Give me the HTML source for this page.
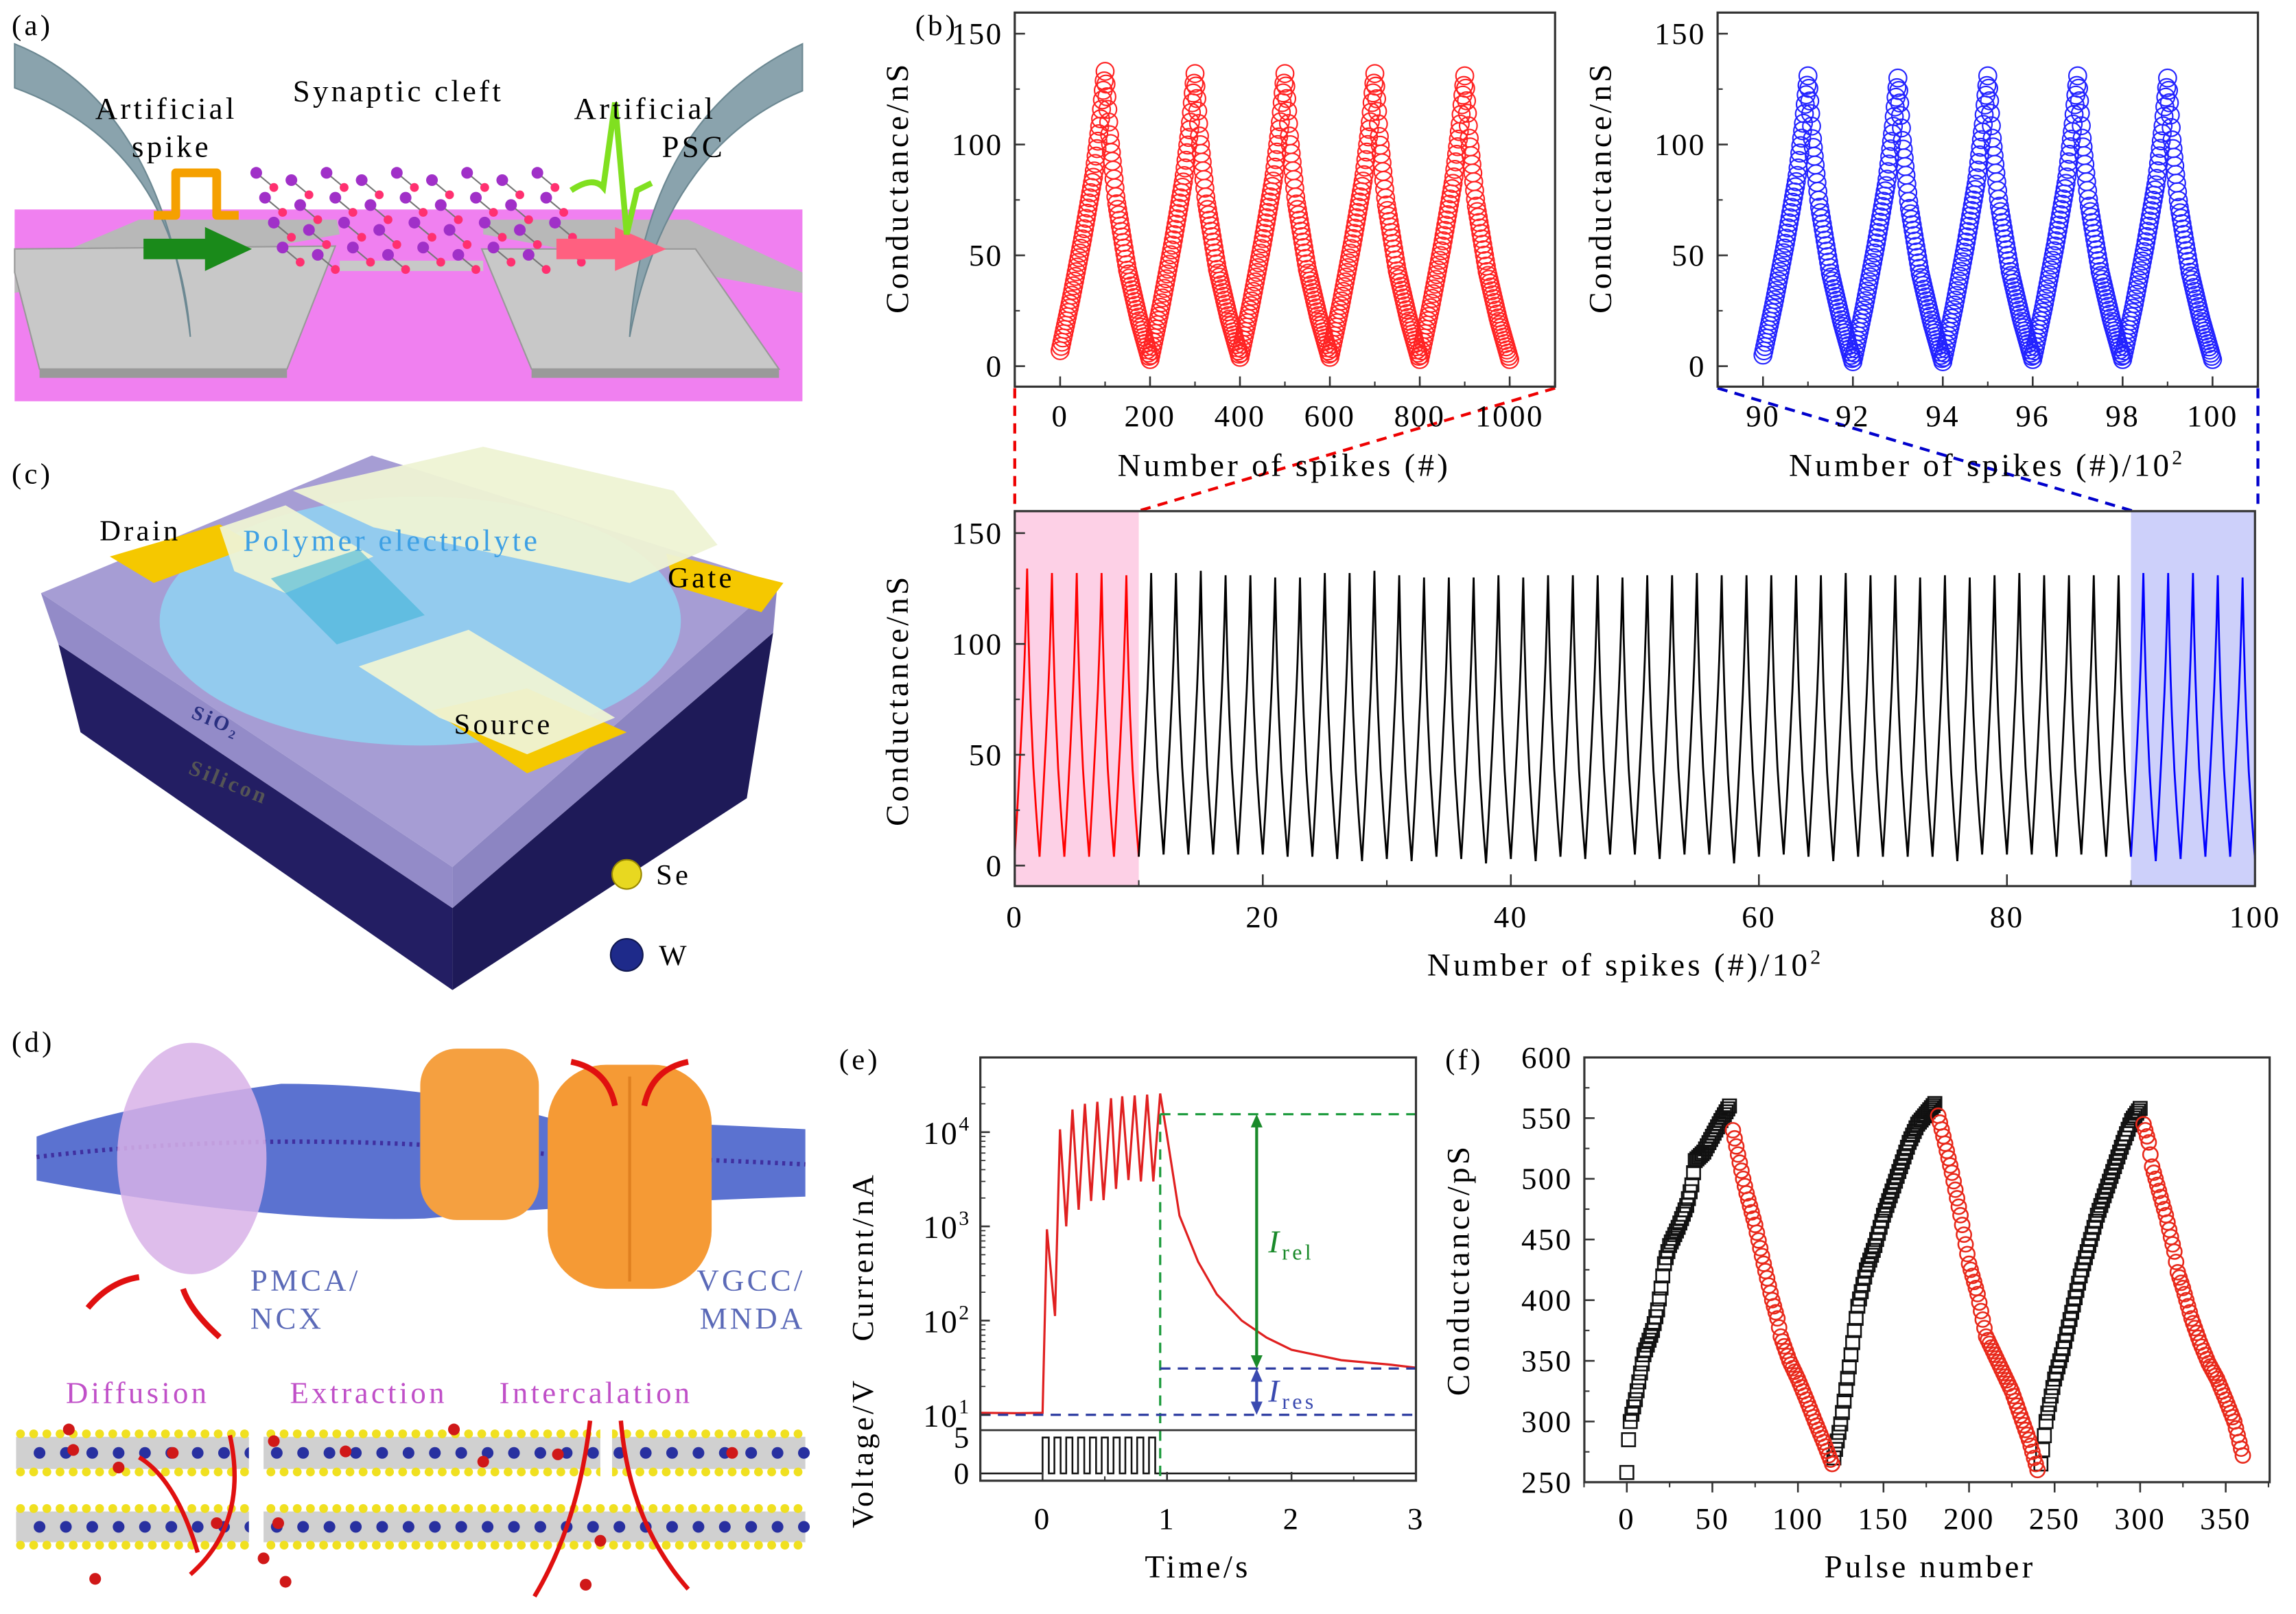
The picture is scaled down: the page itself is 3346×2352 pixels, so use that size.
<!DOCTYPE html>
<html><head><meta charset="utf-8"><style>
html,body{margin:0;padding:0;background:#fff;}
svg{display:block;}
text{font-family:"Liberation Serif",serif;letter-spacing:2px;}
text.tk{letter-spacing:1.2px;}
</style></head><body>
<svg id="fig" xmlns="http://www.w3.org/2000/svg" width="3346" height="2352" viewBox="0 0 1568 1102" preserveAspectRatio="none">
<rect x="0" y="0" width="1568" height="1102" fill="#fff"/>

<!-- Panel (a) -->
<g>
  <polygon points="10,143 548,143 548,274 10,274" fill="#f080f0"/>
  <polygon points="10,186 95,150 230,150 232,160 10,200" fill="#b8b8b8"/>
  <polygon points="548,186 470,150 330,150 330,160 548,200" fill="#b8b8b8"/>
  <polygon points="27,252 196,252 229,168 10,170 10,186" fill="#c8c8c8" stroke="#999" stroke-width="1"/>
  <polygon points="27,252 196,252 196,258 27,258" fill="#9a9a9a"/>
  <polygon points="363,252 532,252 475,170 329,170" fill="#c8c8c8" stroke="#999" stroke-width="1"/>
  <polygon points="363,252 532,252 532,258 363,258" fill="#9a9a9a"/>
  <polygon points="232,178 330,178 330,185 232,185" fill="#c8c8c8"/>
  <g id="lattice-a"></g>
  <path d="M10,30 Q110,70 130,230 Q120,100 10,60 Z" fill="#8aa3ad" stroke="#6c8892" stroke-width="1"/>
  <path d="M548,30 Q440,80 430,230 Q455,100 548,62 Z" fill="#8aa3ad" stroke="#6c8892" stroke-width="1"/>
  <path d="M105,147 L120,147 L120,118 L148,118 L148,147 L163,147" fill="none" stroke="#f5a000" stroke-width="6" stroke-linejoin="round"/>
  <polygon points="98,163 140,163 140,155 172,170 140,185 140,177 98,177" fill="#1a8a1a"/>
  <polygon points="380,163 420,163 420,155 455,170 420,185 420,177 380,177" fill="#ff6080"/>
  <path d="M390,130 Q405,120 412,128 L420,70 L428,160 L435,130 L445,125" fill="none" stroke="#80e020" stroke-width="4"/>
  <text x="8" y="24" font-size="20">(a)</text>
  <text x="65" y="81" font-size="21">Artificial</text>
  <text x="90" y="107" font-size="21">spike</text>
  <text x="200" y="69" font-size="21">Synaptic cleft</text>
  <text x="392" y="81" font-size="21">Artificial</text>
  <text x="452" y="107" font-size="21">PSC</text>
</g>

<!-- Panel (c) -->
<g>
  <polygon points="40,440 309,620 309,676 55,500" fill="#231e63"/>
  <polygon points="309,620 528,432 510,545 309,676" fill="#1e1a58"/>
  <polygon points="28,405 309,592 309,620 40,440" fill="#938bc8"/>
  <polygon points="309,592 531,398 528,432 309,620" fill="#8c85c2"/>
  <polygon points="28,405 254,311 531,398 309,592" fill="#a69dd4"/>
  <ellipse cx="287" cy="424" rx="178" ry="85" fill="#8fd4f2" opacity="0.85"/>
  <polygon points="75,380 150,358 175,372 105,398" fill="#f5c800"/>
  <polygon points="455,378 535,398 520,418 460,400" fill="#f5c800"/>
  <polygon points="295,485 360,470 428,500 360,528" fill="#f5c800"/>
  <polygon points="150,360 195,345 255,380 195,405 160,390" fill="#eef3d4" opacity="0.95"/>
  <polygon points="200,335 330,305 460,335 490,372 430,398 255,360" fill="#eef3d4" opacity="0.95"/>
  <polygon points="245,455 320,430 370,460 420,490 360,515 300,490" fill="#eef3d4" opacity="0.95"/>
  <polygon points="185,395 245,375 290,420 230,440" fill="#3fb4d8" opacity="0.6"/>
  <text x="8" y="330" font-size="20">(c)</text>
  <text x="68" y="369" font-size="20">Drain</text>
  <text x="166" y="376" font-size="21" fill="#3ea0e4">Polymer electrolyte</text>
  <text x="456" y="401" font-size="20">Gate</text>
  <text x="310" y="501" font-size="20">Source</text>
  <text x="130" y="490" font-size="14" font-weight="bold" fill="#2a3080" transform="rotate(22 130 490)">SiO₂</text>
  <text x="128" y="528" font-size="15" font-weight="bold" fill="#555" transform="rotate(22 128 528)">Silicon</text>
  <circle cx="428" cy="597" r="10" fill="#e8d820" stroke="#998800" stroke-width="1"/>
  <text x="448" y="604" font-size="20">Se</text>
  <circle cx="428" cy="652" r="11" fill="#1e2a8a" stroke="#101850" stroke-width="1"/>
  <text x="450" y="659" font-size="20">W</text>
</g>

<!-- Panel (d) -->
<g>
  <path d="M25,776 Q83,755 192,740 Q290,740 374,763 Q490,768 550,771 L550,817 Q400,822 290,832 Q181,835 25,806 Z" fill="#5b72d0"/>
  <path d="M25,790 Q190,770 374,788 Q490,792 550,795" stroke="#4030a0" stroke-width="3" fill="none" stroke-dasharray="2 3"/>
  <rect x="287" y="716" width="81" height="117" rx="25" fill="#f5a040"/>
  <rect x="374" y="727" width="112" height="153" rx="40" fill="#f59a35"/>
  <line x1="430" y1="735" x2="430" y2="875" stroke="#e08020" stroke-width="2"/>
  <ellipse cx="131" cy="791" rx="51" ry="79" fill="#d8b2e8" opacity="0.85"/>
  <path d="M60,893 Q75,875 95,872" stroke="#e01010" stroke-width="4" fill="none"/>
  <path d="M150,913 Q130,895 125,880" stroke="#e01010" stroke-width="4" fill="none"/>
  <path d="M390,725 Q415,730 420,755" stroke="#e01010" stroke-width="4" fill="none"/>
  <path d="M470,725 Q445,730 440,755" stroke="#e01010" stroke-width="4" fill="none"/>
  <text x="8" y="718" font-size="20">(d)</text>
  <text x="171" y="881" font-size="21" fill="#5b6ab8">PMCA/</text>
  <text x="171" y="907" font-size="21" fill="#5b6ab8">NCX</text>
  <text x="550" y="881" font-size="21" fill="#5b6ab8" text-anchor="end">VGCC/</text>
  <text x="550" y="907" font-size="21" fill="#5b6ab8" text-anchor="end">MNDA</text>
  <text x="45" y="958" font-size="21" fill="#c050c8">Diffusion</text>
  <text x="198" y="958" font-size="21" fill="#c050c8">Extraction</text>
  <text x="341" y="958" font-size="21" fill="#c050c8">Intercalation</text>
  <g id="lattice-d"></g>
  <path d="M135,1060 Q120,1010 95,995" stroke="#e01010" stroke-width="3" fill="none"/>
  <path d="M130,1075 Q170,1040 157,980" stroke="#e01010" stroke-width="3" fill="none"/>
  <path d="M403,970 Q395,1040 365,1090" stroke="#e01010" stroke-width="3" fill="none"/>
  <path d="M424,970 Q430,1040 470,1085" stroke="#e01010" stroke-width="3" fill="none"/>
</g>

<!-- Panel (b) static -->
<text x="625" y="24" font-size="20">(b)</text>
<line x1="693" y1="265" x2="693" y2="349" stroke="#e00" stroke-width="2" stroke-dasharray="7 5"/>
<line x1="1062" y1="265" x2="777" y2="349" stroke="#e00" stroke-width="2" stroke-dasharray="7 5"/>
<line x1="1173" y1="265" x2="1457" y2="349" stroke="#00c" stroke-width="2" stroke-dasharray="7 5"/>
<line x1="1542" y1="265" x2="1542" y2="349" stroke="#00c" stroke-width="2" stroke-dasharray="7 5"/>
<text x="620" y="128" font-size="22" text-anchor="middle" transform="rotate(-90 620 128)">Conductance/nS</text>
<text x="877" y="325" font-size="22" text-anchor="middle">Number of spikes (#)</text>
<text x="1100" y="128" font-size="22" text-anchor="middle" transform="rotate(-90 1100 128)">Conductance/nS</text>
<text x="1357" y="325" font-size="22" text-anchor="middle">Number of spikes (#)/10<tspan dy="-8" font-size="14">2</tspan></text>
<text x="620" y="478" font-size="22" text-anchor="middle" transform="rotate(-90 620 478)">Conductance/nS</text>
<text x="1110" y="666" font-size="22" text-anchor="middle">Number of spikes (#)/10<tspan dy="-8" font-size="14">2</tspan></text>

<!-- Panel (e) static -->
<text x="573" y="730" font-size="20">(e)</text>
<text x="596" y="858" font-size="21" text-anchor="middle" transform="rotate(-90 596 858)">Current/nA</text>
<text x="596" y="992" font-size="21" text-anchor="middle" transform="rotate(-90 596 992)">Voltage/V</text>
<text x="818" y="1077" font-size="22" text-anchor="middle">Time/s</text>

<!-- Panel (f) static -->
<text x="987" y="730" font-size="20">(f)</text>
<text x="1003" y="867" font-size="22" text-anchor="middle" transform="rotate(-90 1003 867)">Conductance/pS</text>
<text x="1318" y="1077" font-size="22" text-anchor="middle">Pulse number</text>

<g id="charts"></g>
</svg>
<script>
// ---- data: panel b ----
const riseAt = [0, 25, 50, 75, 90, 100];
const riseFrac = [0, 0.19, 0.40, 0.63, 0.83, 1];
const decayAt = [0, 10, 25, 50, 75, 100];
const decayFrac = [1, 0.78, 0.55, 0.31, 0.14, 0];
const tlPeaks = [133, 132, 132, 132, 131];
const tlTroughs = [7, 3, 4, 4, 3, 3];
const tlTicks = [0, 200, 400, 600, 800, 1000];
const trPeaks = [131, 130, 131, 131, 130];
const trTroughs = [5, 2, 2, 3, 3, 3];
const trTicks = [90, 92, 94, 96, 98, 100];
const yTicksB = [0, 50, 100, 150];
const bPeaks = [134,132,132,132,131, 132,132,133,131,131,130,130,132,132,133,131,130,130,130,131,130,131,131,131,130,131,131,132,131,131,131,131,131,132,131,131,130,131,130,131,132,131,131,131,131, 132,132,132,131,130];
const bTroughs = [5,4,4,4,4,4, 5,5,5,5,5,4,4,3,2,3,2,4,3,1,3,2,4,3,5,5,3,5,5,1,4,5,4,2,4,4,4,4,2,5,5,5,4,5,4, 4,2,3,4,4,3];
const bTicks = [0, 20, 40, 60, 80, 100];
// ---- data: panel e ----
const eBaseT = [-0.5, -0.2, 0.0];
const eBaseI = [10.5, 10.4, 10.5];
const ePulseT = [0.035,0.10,0.14,0.19,0.24,0.29,0.34,0.39,0.44,0.49,0.55,0.59,0.64,0.69,0.74,0.79,0.84,0.89,0.945];
const ePulseI = [930,112,10700,1000,17400,1500,20000,1860,21000,1900,22900,2500,24000,3100,24500,3000,25000,3000,25700];
const eDecayT = [1.0,1.1,1.25,1.4,1.6,1.8,2.0,2.4,2.8,3.0];
const eDecayI = [9100,1300,420,190,100,66,49,38,34,31.6];
const eXTicks = [0, 1, 2, 3];
const eYExp = [1, 2, 3, 4];
const ePulseStarts = [0.0,0.095,0.19,0.285,0.38,0.475,0.57,0.665,0.76,0.855];
const ePulseWidth = 0.05;
const eIrelTop = 15500, eIresTop = 31, eIresBottom = 10;
// ---- data: panel f ----
const fRiseX = [[0,1,2,5,8,10,15,18,20,22,25,30,35,38,40,45,50,55,60],[121,125,130,135,140,145,150,155,160,165,170,180],[242,245,250,255,260,265,270,275,280,285,290,295,300]];
const fRiseV = [[258,285,300,318,340,355,375,392,410,430,445,460,478,495,515,522,535,548,560],[270,298,345,395,425,445,470,490,510,530,545,562],[265,300,335,360,390,420,445,470,490,510,530,548,558]];
const fFallX = [[62,65,68,70,75,80,85,88,90,95,100,105,110,115,120],[182,185,190,195,200,205,210,215,220,225,230,235,240],[302,305,307,310,315,320,322,325,330,335,340,345,350,355,360]];
const fFallV = [[540,520,500,488,462,430,400,385,370,350,335,318,300,283,265],[552,535,505,470,430,405,370,355,340,325,305,285,260],[545,530,510,495,470,440,423,410,385,365,348,335,318,300,272]];
const fXTicks = [0,50,100,150,200,250,300,350];
const fYTicks = [250,300,350,400,450,500,550,600];

const NS = 'http://www.w3.org/2000/svg';
const root = document.getElementById('charts');
function mk(tag, attrs, parent){const e=document.createElementNS(NS,tag);for(const k in attrs)e.setAttribute(k,attrs[k]);(parent||root).appendChild(e);return e;}
function lin(d0,d1,r0,r1){return v=>r0+(v-d0)*(r1-r0)/(d1-d0);}
function interp(xs,ys,x){for(let i=0;i<xs.length-1;i++){if(x<=xs[i+1]){const t=(x-xs[i])/(xs[i+1]-xs[i]);return ys[i]+t*(ys[i+1]-ys[i]);}}return ys[ys.length-1];}

function box(x0,y0,x1,y1,name){const r=mk('rect',{x:x0,y:y0,width:x1-x0,height:y1-y0,fill:'none',stroke:'#333','stroke-width':1.5});


return r;}
function xticks(g,ticks,xs,yb,ytxt,len,minorStep,lo,hi,name){
  ticks.forEach(t=>{const l=mk('line',{x1:xs(t),x2:xs(t),y1:yb,y2:yb-len,stroke:'#333','stroke-width':1.2},g);
    
    
    const tx=mk('text',{x:xs(t),y:ytxt,'font-size':21,'text-anchor':'middle','class':'tk'},g);tx.textContent=t;
    
    });
  if(minorStep){for(let v=lo;v<=hi+1e-9;v+=minorStep){const l=mk('line',{x1:xs(v),x2:xs(v),y1:yb,y2:yb-len/2,stroke:'#333','stroke-width':1},g);
    
    }}
}
function yticks(g,ticks,ys,xl,xtxt,len,minorStep,lo,hi,name){
  ticks.forEach(t=>{const l=mk('line',{x1:xl,x2:xl+len,y1:ys(t),y2:ys(t),stroke:'#333','stroke-width':1.2},g);
    
    
    const tx=mk('text',{x:xtxt,y:ys(t)+7,'font-size':21,'text-anchor':'end','class':'tk'},g);tx.textContent=t;
    
    });
  if(minorStep){for(let v=lo;v<=hi+1e-9;v+=minorStep){const l=mk('line',{x1:xl,x2:xl+len/2,y1:ys(v),y2:ys(v),stroke:'#333','stroke-width':1},g);
    
    }}
}
function cycleVal(k,peak,t0,t1){
  if(k<=100) return t0+(peak-t0)*interp(riseAt,riseFrac,k);
  return t1+(peak-t1)*interp(decayAt,decayFrac,k-100);
}

// ----- top-left -----
(function(){
  const g=mk('g',{});
  
  
  const xs=lin(0,1000,724,1031), ys=lin(0,150,250,23);
  tlPeaks.forEach((p,c)=>{for(let k=0;k<200;k+=2){const v=cycleVal(k,p,tlTroughs[c],tlTroughs[c+1]);
    const m=mk('circle',{cx:xs(c*200+k),cy:ys(v),r:6,fill:'none',stroke:'#f22','stroke-width':1},g);
    
    }});
  const m=mk('circle',{cx:xs(1000),cy:ys(tlTroughs[5]),r:6,fill:'none',stroke:'#f22','stroke-width':1},g);
  
  
  g.appendChild(box(693,8.6,1062,264,'tl-plot-frame'));
  xticks(g,tlTicks,xs,264,291,7,100,-100,1100,'tl-x');
  yticks(g,yTicksB,ys,693,685,7,25,0,150,'tl-y');
})();
// ----- top-right -----
(function(){
  const g=mk('g',{});
  
  
  const xs=lin(90,100,1204,1511), ys=lin(0,150,250,23);
  trPeaks.forEach((p,c)=>{for(let k=0;k<200;k+=2){const v=cycleVal(k,p,trTroughs[c],trTroughs[c+1]);
    const m=mk('circle',{cx:xs(90+(c*200+k)/100),cy:ys(v),r:6,fill:'none',stroke:'#22f','stroke-width':1},g);
    
    }});
  const m=mk('circle',{cx:xs(100),cy:ys(trTroughs[5]),r:6,fill:'none',stroke:'#22f','stroke-width':1},g);
  
  
  g.appendChild(box(1173,8.6,1542,264,'tr-plot-frame'));
  xticks(g,trTicks,xs,264,291,7,1,89,101,'tr-x');
  yticks(g,yTicksB,ys,1173,1165,7,25,0,150,'tr-y');
})();
// ----- bottom long -----
(function(){
  const g=mk('g',{});
  
  
  const xs=lin(0,100,693,1540), ys=lin(0,150,591,364);
  const pr=mk('rect',{x:xs(0),y:349,width:xs(10)-xs(0),height:256,fill:'#fdd0e6'},g);
  
  
  const br=mk('rect',{x:xs(90),y:349,width:xs(100)-xs(90),height:256,fill:'#cdd0fa'},g);
  
  
  bPeaks.forEach((p,c)=>{let pts=[];for(let k=0;k<=200;k+=10){pts.push(xs((c*200+k)/100).toFixed(2)+','+ys(cycleVal(k,p,bTroughs[c],bTroughs[c+1])).toFixed(2));}
    const col=c<5?'#f00':(c>=45?'#00f':'#000');
    const l=mk('polyline',{points:pts.join(' '),fill:'none',stroke:col,'stroke-width':1.3},g);
    
    });
  g.appendChild(box(693,349,1540,605,'bottom-plot-frame'));
  xticks(g,bTicks,xs,605,633,8,10,0,100,'bottom-x');
  yticks(g,yTicksB,ys,693,685,7,25,0,150,'bottom-y');
})();
// ----- panel e -----
(function(){
  const g=mk('g',{});
  
  
  const xs=lin(-0.5,3,669.5,967), yl=v=>lin(1,4,966,773)(Math.log10(v)), yv=lin(0,5,1006,981.5);
  const T=eBaseT.concat(ePulseT,eDecayT), I=eBaseI.concat(ePulseI,eDecayI);
  const c=mk('polyline',{points:T.map((t,i)=>xs(t).toFixed(2)+','+yl(I[i]).toFixed(2)).join(' '),fill:'none',stroke:'#e02020','stroke-width':1.5},g);
  
  
  let vp=[xs(-0.5)+','+yv(0)];
  ePulseStarts.forEach(s=>{vp.push(xs(s)+','+yv(0),xs(s)+','+yv(5),xs(s+ePulseWidth)+','+yv(5),xs(s+ePulseWidth)+','+yv(0));});
  vp.push(xs(3)+','+yv(0));
  const v=mk('polyline',{points:vp.join(' '),fill:'none',stroke:'#111','stroke-width':1.2},g);
  
  
  const tEnd=ePulseT[ePulseT.length-1], tArr=1.72;
  const gv=mk('line',{x1:xs(tEnd),x2:xs(tEnd),y1:yl(eIrelTop),y2:1011,stroke:'#1a9a3a','stroke-width':1.5,'stroke-dasharray':'7 5'},g);
  
  
  const gh=mk('line',{x1:xs(tEnd),x2:967,y1:yl(eIrelTop),y2:yl(eIrelTop),stroke:'#1a9a3a','stroke-width':1.5,'stroke-dasharray':'7 5'},g);
  
  
  const b1=mk('line',{x1:xs(tEnd),x2:967,y1:yl(eIresTop),y2:yl(eIresTop),stroke:'#2b3aa0','stroke-width':1.5,'stroke-dasharray':'7 5'},g);
  
  
  const b2=mk('line',{x1:669.5,x2:967,y1:yl(eIresBottom),y2:yl(eIresBottom),stroke:'#2b3aa0','stroke-width':1.5,'stroke-dasharray':'7 5'},g);
  
  
  const a1=mk('line',{x1:xs(tArr),x2:xs(tArr),y1:yl(eIrelTop)+6,y2:yl(eIresTop)-6,stroke:'#1a8a2a','stroke-width':2},g);
  
  
  const ah1=mk('polygon',{points:`${xs(tArr)-4},${yl(eIrelTop)+9} ${xs(tArr)+4},${yl(eIrelTop)+9} ${xs(tArr)},${yl(eIrelTop)}`,fill:'#1a8a2a'},g);
  
  
  const ah2=mk('polygon',{points:`${xs(tArr)-4},${yl(eIresTop)-9} ${xs(tArr)+4},${yl(eIresTop)-9} ${xs(tArr)},${yl(eIresTop)}`,fill:'#1a8a2a'},g);
  
  
  const a2=mk('line',{x1:xs(tArr),x2:xs(tArr),y1:yl(eIresTop)+6,y2:yl(eIresBottom)-6,stroke:'#3a4ab0','stroke-width':2},g);
  
  
  const ah3=mk('polygon',{points:`${xs(tArr)-4},${yl(eIresTop)+9} ${xs(tArr)+4},${yl(eIresTop)+9} ${xs(tArr)},${yl(eIresTop)}`,fill:'#3a4ab0'},g);
  
  
  const ah4=mk('polygon',{points:`${xs(tArr)-4},${yl(eIresBottom)-9} ${xs(tArr)+4},${yl(eIresBottom)-9} ${xs(tArr)},${yl(eIresBottom)}`,fill:'#3a4ab0'},g);
  
  
  const lr=mk('text',{x:xs(tArr)+8,y:855,'font-size':22,fill:'#1a8a2a','font-style':'italic'},g);
  lr.innerHTML='I<tspan font-style="normal" font-size="15" dy="5">rel</tspan>';
  
  
  const ls=mk('text',{x:xs(tArr)+8,y:957,'font-size':22,fill:'#3a4ab0','font-style':'italic'},g);
  ls.innerHTML='I<tspan font-style="normal" font-size="15" dy="5">res</tspan>';
  
  
  g.appendChild(box(669.5,722,967,1011,'e-plot-frame'));
  const sep=mk('line',{x1:669.5,x2:967,y1:976.5,y2:976.5,stroke:'#333','stroke-width':1.3},g);
  
  
  xticks(g,eXTicks,xs,1011,1044,6,0.5,-0.5,3,'e-x');
  eYExp.forEach(e=>{const y=lin(1,4,966,773)(e);
    const l=mk('line',{x1:669.5,x2:676,y1:y,y2:y,stroke:'#333','stroke-width':1.2},g);
    
    
    const t=mk('text',{x:663,y:y+8,'font-size':22,'text-anchor':'end','class':'tk'},g);
    t.innerHTML='10<tspan dy="-9" font-size="14">'+e+'</tspan>';
    
    
    for(let m=2;m<10;m++){const ym=lin(1,4,966,773)(e+Math.log10(m)); if(ym<724||e+Math.log10(m)>4.6)continue;
      const ml=mk('line',{x1:669.5,x2:673,y1:ym,y2:ym,stroke:'#333','stroke-width':0.8},g);
      
      }
  });
  [0,5].forEach(vv=>{const t=mk('text',{x:663,y:yv(vv)+7,'font-size':21,'text-anchor':'end','class':'tk'},g);t.textContent=vv;
    
    });
})();
// ----- panel f -----
(function(){
  const g=mk('g',{});
  
  
  const xs=lin(0,350,1111,1520), ys=lin(250,600,1012,722);
  fRiseX.forEach((xa,c)=>{const va=fRiseV[c];for(let x=xa[0];x<=xa[xa.length-1];x++){const v=interp(xa,va,x);
    const m=mk('rect',{x:xs(x)-4.5,y:ys(v)-4.5,width:9,height:9,fill:'none',stroke:'#111','stroke-width':1.2},g);
    
    }});
  fFallX.forEach((xa,c)=>{const va=fFallV[c];for(let x=xa[0];x<=xa[xa.length-1];x++){const v=interp(xa,va,x);
    const m=mk('circle',{cx:xs(x),cy:ys(v),r:5,fill:'none',stroke:'#e8281a','stroke-width':1.2},g);
    
    }});
  g.appendChild(box(1082,722,1550,1012,'f-plot-frame'));
  xticks(g,fXTicks,xs,1012,1044,-7,25,-25,375,'f-x');
  yticks(g,fYTicks,ys,1082,1074,7,25,250,600,'f-y');
})();
// ----- illustration details -----
(function(){
  const g=document.getElementById('lattice-a');
  for(let i=0;i<9;i++)for(let j=0;j<4;j++){
    const x=175+i*24+j*6, y=118+j*17+(i%2)*5;
    const ln=mk('line',{x1:x,y1:y,x2:x+12,y2:y+10,stroke:'#777','stroke-width':1},g);
    
    
    const a=mk('circle',{cx:x,cy:y,r:4,fill:'#a030c8'},g);
    
    
    const b=mk('circle',{cx:x+12,cy:y+10,r:3,fill:'#ff3070'},g);
    
    
  }
  const d=document.getElementById('lattice-d');
  [[975,1009],[1026,1059]].forEach(([y0,y1])=>{
    const bg=mk('rect',{x:11,y:y0+6,width:539,height:y1-y0-12,fill:'#b0b0b0',opacity:0.6},d);
    
    
    for(let x=14;x<550;x+=9){
      const t=mk('circle',{cx:x,cy:y0+4,r:3,fill:'#f0e020'},d);
      
      
      const bt=mk('circle',{cx:x,cy:y1-4,r:3,fill:'#f0e020'},d);
      
      
      if(x%18<9){const w=mk('circle',{cx:x+4,cy:(y0+y1)/2,r:4,fill:'#2830a0'},d);
        
        }
    }
  });
  const gapA=mk('rect',{x:170,y:970,width:10,height:95,fill:'#fff'},d);
  
  
  const gapB=mk('rect',{x:410,y:970,width:8,height:45,fill:'#fff'},d);
  
  
  [[47,976],[50,990],[118,992],[187,984],[236,991],[310,976],[330,998],[381,993],[500,992],[190,1040],[148,1040],[180,1064],[65,1078],[195,1080],[410,1052],[400,1082],[81,1002]].forEach(([x,y])=>{
    const r=mk('circle',{cx:x,cy:y,r:4,fill:'#d01818'},d);
    
    
  });
})();
</script>
</body></html>
